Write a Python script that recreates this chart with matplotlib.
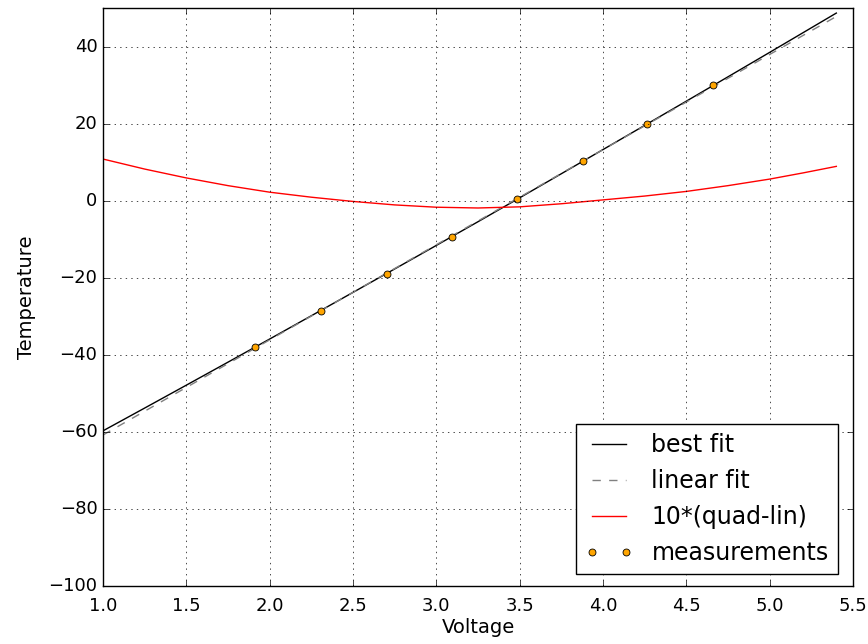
import numpy as np
import matplotlib
matplotlib.use('Agg')
import matplotlib.pyplot as plt

plt.style.use('classic')

# measured points (voltage, temperature)
volt = [1.913, 2.306, 2.705, 3.095, 3.486, 3.877, 4.267, 4.662]
temp = [-38.0, -28.6, -19.0, -9.3, 0.4, 10.4, 19.8, 29.9]

# sample voltages where the curves were read
fit_x = [1.0, 1.25, 1.5, 1.75, 2.0, 2.25, 2.5, 2.75, 3.0, 3.25, 3.5,
         3.75, 4.0, 4.25, 4.5, 4.75, 5.0, 5.2, 5.4]
# best fit (slightly curved)
best_y = [-59.72, -53.81, -47.87, -41.90, -35.90, -29.86, -23.80, -17.72,
          -11.61, -5.46, 0.74, 6.99, 13.26, 19.53, 25.82, 32.14, 38.48,
          43.58, 48.68]
# straight linear fit, read at the ends
lin_x = [1.0, 5.4]
lin_y = [-60.8, 47.8]
# 10*(quad-lin)
quad_y = [10.8, 8.2, 5.9, 3.9, 2.2, 0.9, -0.2, -1.1, -1.7, -1.9, -1.6,
          -0.8, 0.2, 1.2, 2.4, 3.9, 5.6, 7.2, 8.9]

fig = plt.figure(figsize=(8.68, 6.44), dpi=100, facecolor='white')
ax = fig.add_axes([0.1187, 0.09, 0.864, 0.8976])

ax.plot(fit_x, best_y, color='black', lw=1, label='best fit')
ax.plot(lin_x, lin_y, color='gray', ls='--', lw=1, label='linear fit')
ax.plot(fit_x, quad_y, color='red', lw=1, label='10*(quad-lin)')
ax.plot(volt, temp, 'o', color='orange', mec='black', mew=0.6,
        markersize=5, label='measurements')

ax.set_xlim(1.0, 5.5)
ax.set_ylim(-100, 50)
ax.set_xticks(np.arange(1.0, 5.51, 0.5))
ax.set_yticks(np.arange(-100, 41, 20))
ax.tick_params(labelsize=13)
ax.tick_params(axis='x', pad=8)
ax.grid(True)
ax.set_xlabel('Voltage', fontsize=14, labelpad=2)
ax.set_ylabel('Temperature', fontsize=14, labelpad=9)
ax.legend(loc='lower right', fontsize=17, bbox_to_anchor=(0.996, 0.0))

fig.savefig('out.png', dpi=100, facecolor='white')
